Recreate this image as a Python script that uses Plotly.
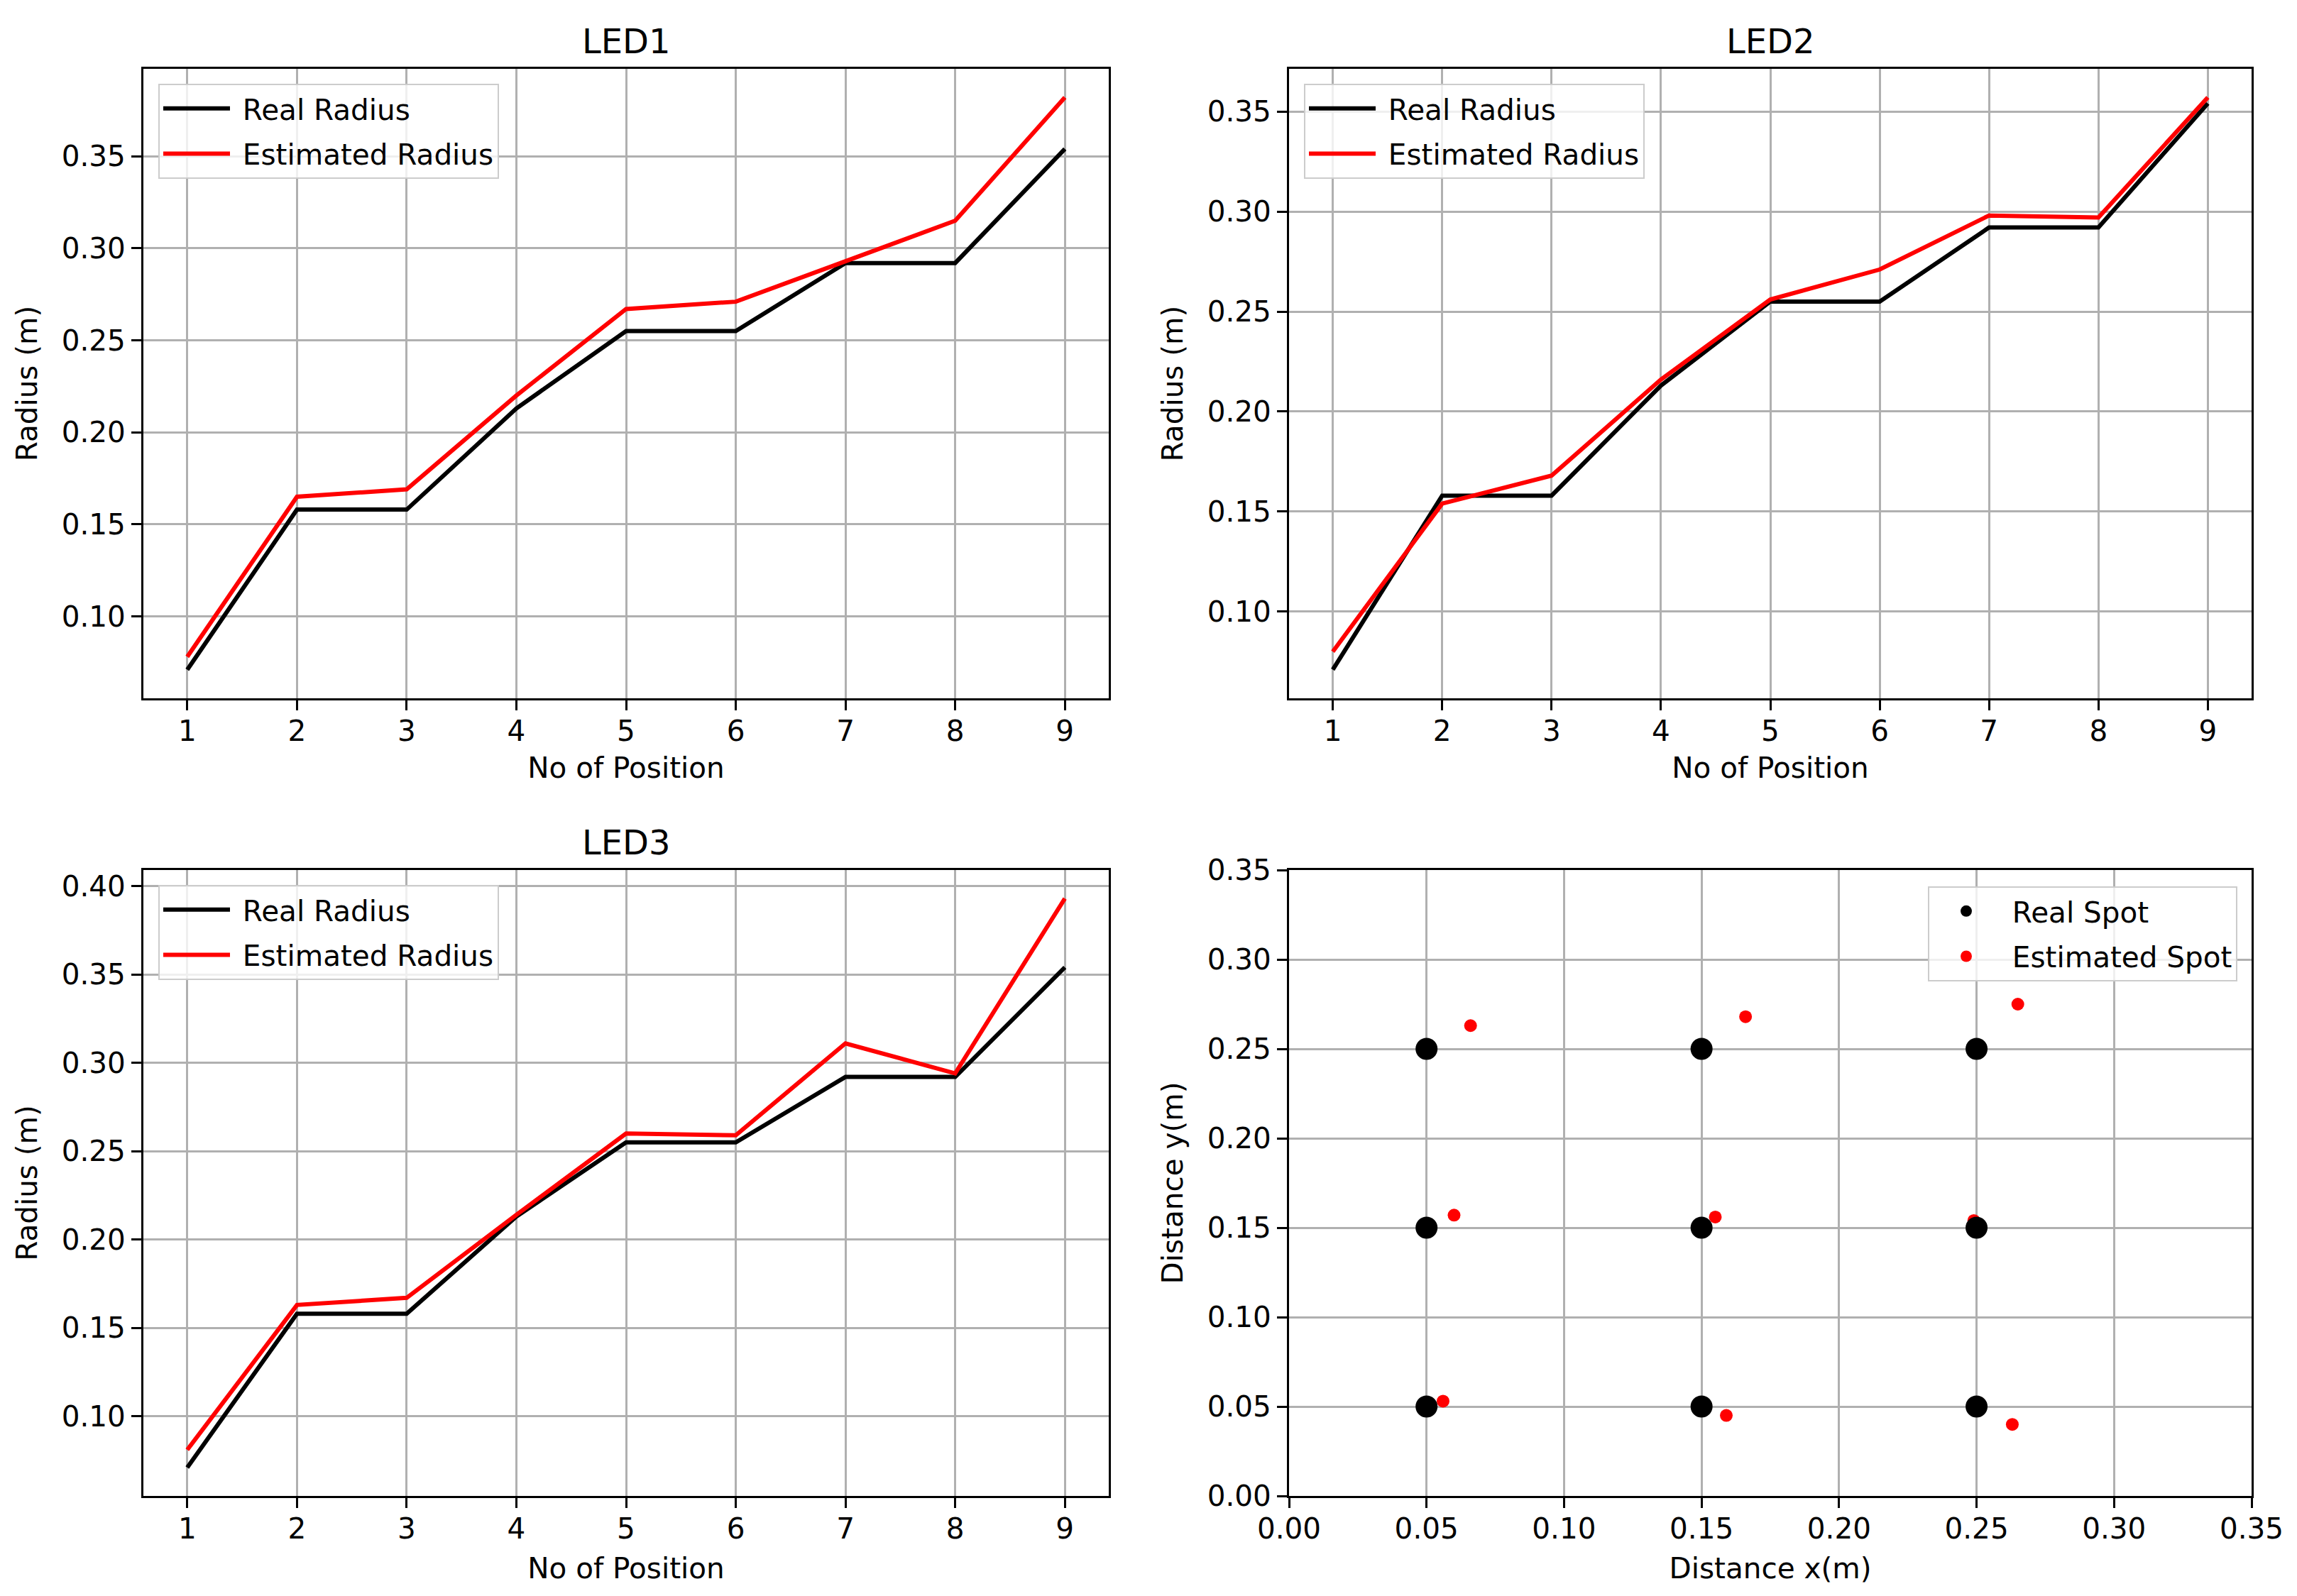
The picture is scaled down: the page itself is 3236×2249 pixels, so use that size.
import plotly.graph_objects as go

positions = [1, 2, 3, 4, 5, 6, 7, 8, 9]
real_radius = [0.071, 0.158, 0.158, 0.213, 0.255, 0.255, 0.292, 0.292, 0.354]
led1_est = [0.078, 0.165, 0.169, 0.220, 0.267, 0.271, 0.293, 0.315, 0.382]
led2_est = [0.080, 0.154, 0.168, 0.216, 0.256, 0.271, 0.298, 0.297, 0.357]
led3_est = [0.081, 0.163, 0.167, 0.214, 0.260, 0.259, 0.311, 0.294, 0.393]

real_x = [0.05, 0.05, 0.05, 0.15, 0.15, 0.15, 0.25, 0.25, 0.25]
real_y = [0.05, 0.15, 0.25, 0.05, 0.15, 0.25, 0.05, 0.15, 0.25]
est_x = [0.056, 0.060, 0.066, 0.159, 0.155, 0.166, 0.263, 0.249, 0.265]
est_y = [0.053, 0.157, 0.263, 0.045, 0.156, 0.268, 0.040, 0.154, 0.275]

titles = ["LED1", "LED2", "LED3"]

W, H = 3236, 2249
FONT = "DejaVu Sans"
TICK = 40.5
fig = go.Figure()

estimates = [led1_est, led2_est, led3_est]
axes = [("x", "y"), ("x2", "y2"), ("x3", "y3")]
legends = ["legend", "legend2", "legend3"]
for i in range(3):
    xa, ya = axes[i]
    fig.add_trace(go.Scatter(x=positions, y=real_radius, mode="lines", name=" Real Radius",
                             line=dict(color="black", width=6), xaxis=xa, yaxis=ya,
                             legend=legends[i], legendgroup="real%d" % i))
    fig.add_trace(go.Scatter(x=positions, y=estimates[i], mode="lines", name=" Estimated Radius",
                             line=dict(color="red", width=6), xaxis=xa, yaxis=ya,
                             legend=legends[i], legendgroup="est%d" % i))

fig.add_trace(go.Scatter(x=est_x, y=est_y, mode="markers", name=" Estimated Spot",
                         marker=dict(color="red", size=18), xaxis="x4", yaxis="y4",
                         legend="legend4", legendrank=2, legendgroup="est_spot"))
fig.add_trace(go.Scatter(x=real_x, y=real_y, mode="markers", name=" Real Spot",
                         marker=dict(color="black", size=31), xaxis="x4", yaxis="y4",
                         legend="legend4", legendrank=1, legendgroup="real_spot"))

def px_x(p):
    return p / W

def px_y(p):
    return 1 - p / H

dom_x = [[px_x(202), px_x(1562)], [px_x(1816), px_x(3172)]]
dom_y_top = [px_y(984), px_y(97)]
dom_y_bot = [px_y(2108), px_y(1226)]

common = dict(showline=True, linecolor="black", linewidth=3, mirror=True,
              ticks="outside", ticklen=14, tickwidth=3, tickcolor="black",
              showgrid=True, gridcolor="#b0b0b0", gridwidth=3, zeroline=False,
              automargin=False,
              tickfont=dict(family=FONT, size=TICK, color="black"))

def yrange(vals):
    lo, hi = min(vals), max(vals)
    m = (hi - lo) * 0.05
    return [lo - m, hi + m]

layout_axes = {}
specs = [
    ("xaxis", "yaxis", dom_x[0], dom_y_top, "y", "x", led1_est, [0.10, 0.15, 0.20, 0.25, 0.30, 0.35], 16),
    ("xaxis2", "yaxis2", dom_x[1], dom_y_top, "y2", "x2", led2_est, [0.10, 0.15, 0.20, 0.25, 0.30, 0.35], 16),
    ("xaxis3", "yaxis3", dom_x[0], dom_y_bot, "y3", "x3", led3_est, [0.10, 0.15, 0.20, 0.25, 0.30, 0.35, 0.40], 20),
]
for xk, yk, dx, dy, anc_y, anc_x, est, yt, so in specs:
    layout_axes[xk] = dict(common, domain=dx, anchor=anc_y, range=[0.6, 9.4],
                           tickvals=positions, ticktext=[str(p) for p in positions],
                           ticklabelstandoff=-6,
                           title=dict(text="No of Position", font=dict(family=FONT, size=TICK, color="black"), standoff=so))
    layout_axes[yk] = dict(common, domain=dy, anchor=anc_x, range=yrange(real_radius + est),
                           tickvals=yt, ticktext=["%.2f" % v for v in yt],
                           title=dict(text="Radius (m)", font=dict(family=FONT, size=TICK, color="black"), standoff=22))

sc_ticks = [0.00, 0.05, 0.10, 0.15, 0.20, 0.25, 0.30, 0.35]
layout_axes["xaxis4"] = dict(common, domain=dom_x[1], anchor="y4", range=[0, 0.35],
                             tickvals=sc_ticks, ticktext=["%.2f" % v for v in sc_ticks],
                             ticklabelstandoff=-6,
                             title=dict(text="Distance x(m)", font=dict(family=FONT, size=TICK, color="black"), standoff=20))
layout_axes["yaxis4"] = dict(common, domain=dom_y_bot, anchor="x4", range=[0, 0.35],
                             tickvals=sc_ticks, ticktext=["%.2f" % v for v in sc_ticks],
                             title=dict(text="Distance y(m)", font=dict(family=FONT, size=TICK, color="black"), standoff=22))

leg_common = dict(bgcolor="rgba(255,255,255,0.8)", bordercolor="#cccccc", borderwidth=2,
                  font=dict(family=FONT, size=TICK, color="black"),
                  traceorder="grouped", tracegroupgap=8, itemwidth=94)

annotations = []
centers = [(sum(dom_x[0]) / 2, px_y(58)), (sum(dom_x[1]) / 2, px_y(58)), (sum(dom_x[0]) / 2, px_y(1187))]
for t, (cx, cy) in zip(titles, centers):
    annotations.append(dict(text=t, x=cx, y=cy, xref="paper", yref="paper", xanchor="center",
                            yanchor="middle", showarrow=False,
                            font=dict(family=FONT, size=48, color="black")))

fig.update_layout(
    width=W, height=H, autosize=False,
    margin=dict(l=0, r=0, t=0, b=0, autoexpand=False),
    paper_bgcolor="white", plot_bgcolor="white",
    showlegend=True,
    legend=dict(leg_common, x=px_x(223), y=px_y(118), xanchor="left", yanchor="top"),
    legend2=dict(leg_common, x=px_x(1837), y=px_y(118), xanchor="left", yanchor="top"),
    legend3=dict(leg_common, x=px_x(223), y=px_y(1247), xanchor="left", yanchor="top"),
    legend4=dict(leg_common, x=px_x(3152), y=px_y(1249), xanchor="right", yanchor="top"),
    annotations=annotations,
    **layout_axes,
)

fig.write_html("out.html", config={"displayModeBar": False},
               post_script="document.body.style.margin='0px';document.body.style.overflow='hidden';")
